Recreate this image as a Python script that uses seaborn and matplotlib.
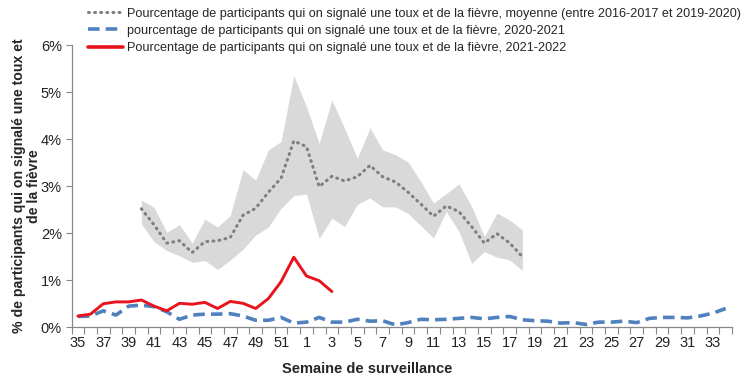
import numpy as np
import pandas as pd
import matplotlib
matplotlib.use("Agg")
import matplotlib.pyplot as plt
import seaborn as sns
from matplotlib.lines import Line2D

sns.set_style("white")
plt.rcParams['font.family'] = ['Liberation Sans', 'DejaVu Sans']

# ---- data ----
week_labels = [35, 36, 37, 38, 39, 40, 41, 42, 43, 44, 45, 46, 47, 48, 49, 50, 51, 52,
               1, 2, 3, 4, 5, 6, 7, 8, 9, 10, 11, 12, 13, 14, 15, 16, 17, 18, 19, 20,
               21, 22, 23, 24, 25, 26, 27, 28, 29, 30, 31, 32, 33, 34]

season_2021_2022 = [0.24, 0.28, 0.50, 0.54, 0.54, 0.58, 0.45, 0.35, 0.51, 0.49, 0.53,
                    0.40, 0.55, 0.51, 0.40, 0.61, 0.97, 1.49, 1.09, 0.99, 0.76]

season_2020_2021 = [0.23, 0.24, 0.35, 0.26, 0.45, 0.47, 0.44, 0.33, 0.17, 0.26, 0.28,
                    0.28, 0.29, 0.24, 0.15, 0.15, 0.21, 0.09, 0.11, 0.21, 0.11, 0.11,
                    0.17, 0.13, 0.14, 0.05, 0.10, 0.17, 0.16, 0.17, 0.19, 0.21, 0.18,
                    0.21, 0.23, 0.16, 0.14, 0.13, 0.09, 0.10, 0.06, 0.11, 0.11, 0.13,
                    0.10, 0.19, 0.21, 0.21, 0.20, 0.24, 0.30, 0.40]

# mean / min / max of 2016-2017 .. 2019-2020, weeks 40 .. 18
hist_first_week = 40
hist_mean = [2.52, 2.18, 1.79, 1.84, 1.59, 1.82, 1.84, 1.91, 2.38, 2.53, 2.87, 3.17,
             3.96, 3.84, 2.99, 3.21, 3.11, 3.20, 3.44, 3.20, 3.09, 2.87, 2.62, 2.36,
             2.58, 2.46, 2.14, 1.79, 1.99, 1.79, 1.50]
hist_max = [2.70, 2.55, 2.02, 2.18, 1.79, 2.30, 2.13, 2.38, 3.35, 3.13, 3.77, 3.95,
            5.35, 4.69, 3.91, 4.83, 4.23, 3.59, 4.24, 3.77, 3.67, 3.51, 3.10, 2.64,
            2.84, 3.05, 2.57, 1.93, 2.43, 2.28, 2.07]
hist_min = [2.20, 1.82, 1.63, 1.52, 1.38, 1.42, 1.23, 1.43, 1.66, 1.96, 2.13, 2.53,
            2.80, 2.83, 1.89, 2.32, 2.14, 2.61, 2.75, 2.56, 2.56, 2.42, 2.16, 1.90,
            2.46, 2.04, 1.36, 1.61, 1.49, 1.43, 1.21]

labels = [
    "Pourcentage de participants qui on signalé une toux et de la fièvre, moyenne (entre 2016-2017 et 2019-2020)",
    "pourcentage de participants qui on signalé une toux et de la fièvre, 2020-2021",
    "Pourcentage de participants qui on signalé une toux et de la fièvre, 2021-2022",
]

# ---- frames ----
n = len(week_labels)
pos = np.arange(n)
start = week_labels.index(hist_first_week)
hist_pos = pos[start:start + len(hist_mean)]

df_red = pd.DataFrame({"pos": pos[:len(season_2021_2022)], "val": season_2021_2022})
df_blue = pd.DataFrame({"pos": pos, "val": season_2020_2021})
df_hist = pd.DataFrame({"pos": hist_pos, "mean": hist_mean, "lo": hist_min, "hi": hist_max})

# ---- figure ----
fig = plt.figure(figsize=(7.52, 3.84), dpi=100)
ax = fig.add_axes([71.5 / 752, 1 - 327.3 / 384, 660.5 / 752, 282.3 / 384])

band_color = "#D9D9D9"
grey = "#7F7F7F"
blue = "#4F81BD"
red = "#E8141C"

ax.fill_between(df_hist["pos"], df_hist["lo"], df_hist["hi"], color=band_color, lw=0, zorder=1)
sns.lineplot(data=df_hist, x="pos", y="mean", ax=ax, color=grey, lw=2.2,
             linestyle=(0, (0.3, 1.7)), dash_capstyle="round", zorder=3)
sns.lineplot(data=df_blue, x="pos", y="val", ax=ax, color=blue, lw=2.6,
             linestyle=(0, (3.2, 1.7)), zorder=3)
sns.lineplot(data=df_red, x="pos", y="val", ax=ax, color=red, lw=2.1, zorder=4)

ax.set_xlim(-0.5, n - 0.5)
ax.set_ylim(0, 6)

# y axis
ax.set_yticks(range(0, 7))
ax.set_yticklabels([f"{v}%" for v in range(0, 7)], fontsize=10.5, color="#222222")
ax.tick_params(axis="y", direction="out", length=4, width=0.8, color="#888888", pad=3, left=True)

# x axis: labels every 2 weeks, ticks at category boundaries
ax.set_xticks(pos[::2])
ax.set_xticklabels([str(w) for w in week_labels[::2]], fontsize=10.5, color="#222222")
ax.set_xticks(np.arange(-0.5, n, 1.0), minor=True)
ax.tick_params(axis="x", which="major", length=0, pad=6)
ax.tick_params(axis="x", which="minor", direction="out", length=5, width=0.8, color="#888888", bottom=True)

for side in ["top", "right"]:
    ax.spines[side].set_visible(False)
for side in ["left", "bottom"]:
    ax.spines[side].set_color("#888888")
    ax.spines[side].set_linewidth(0.9)

ax.set_xlabel("Semaine de surveillance", fontsize=10.5, fontweight="bold")
ax.xaxis.set_label_coords((367 - 71.5) / 660.5, (327.3 - 362) / 282.3)
ax.set_ylabel("% de participants qui on signalé une toux et\nde la fièvre",
              fontsize=10.2, fontweight="bold", linespacing=1.15)
ax.yaxis.set_label_coords(-30 / 660.5, 0.5)

handles = [
    Line2D([], [], color=grey, lw=2.2, linestyle=(0, (0.3, 1.7)), dash_capstyle="round"),
    Line2D([], [], color=blue, lw=2.6, linestyle=(0, (3.2, 1.7))),
    Line2D([], [], color=red, lw=2.6),
]
fig.legend(handles, labels, loc="upper left", bbox_to_anchor=(88 / 752, 1 - 7.5 / 384),
           frameon=False, fontsize=9.1, handlelength=2.8, handletextpad=0.25,
           labelspacing=0.42, borderpad=0, borderaxespad=0)

fig.savefig("out.png", dpi=100)
